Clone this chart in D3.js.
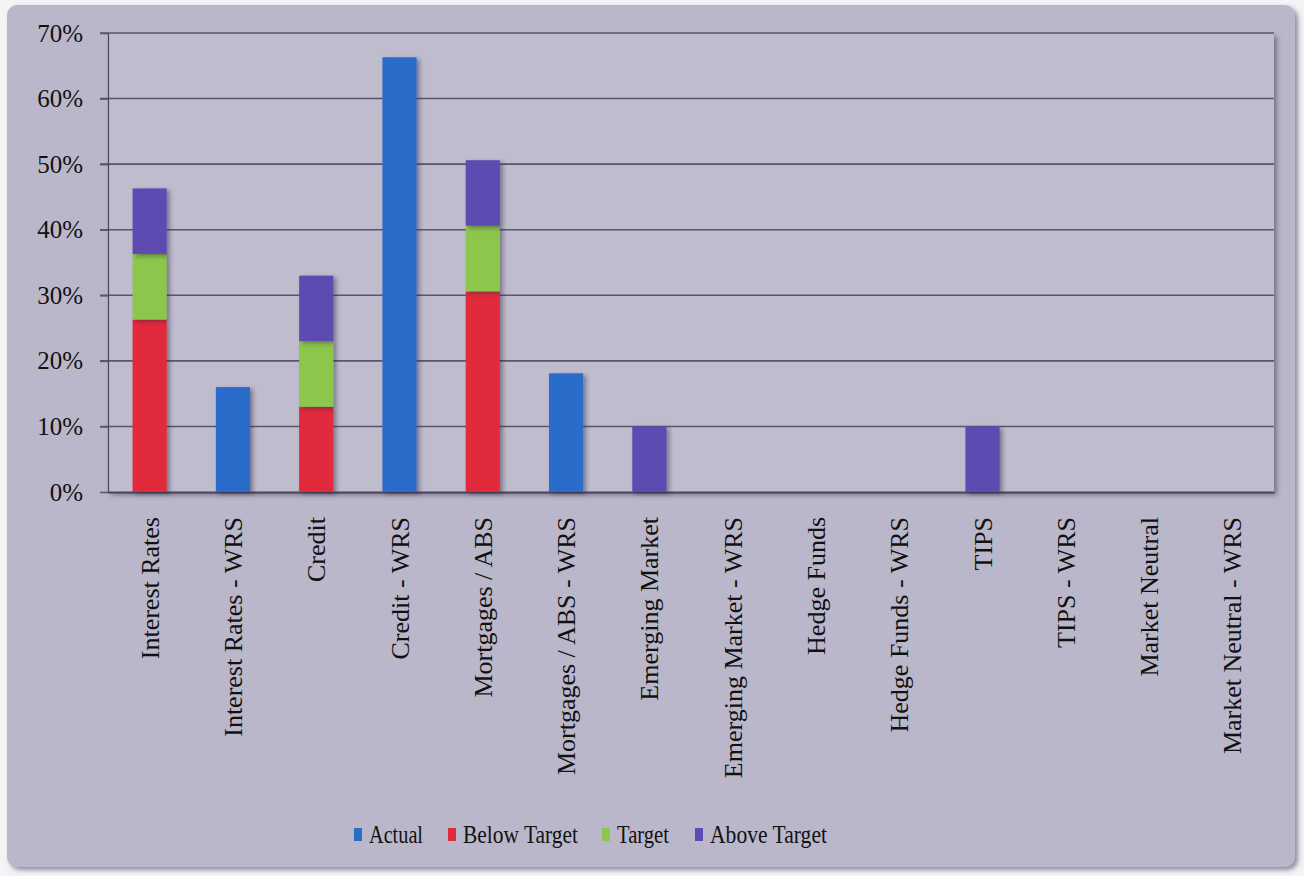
<!DOCTYPE html>
<html><head><meta charset="utf-8">
<script src="https://cdn.jsdelivr.net/npm/d3@7/dist/d3.min.js"></script>
<style>
html,body{margin:0;padding:0;background:#f4f4f6;}
svg{display:block;}
</style></head>
<body>
<svg id="chart" width="1304" height="876"></svg>
<script>
const categories = ["Interest Rates","Interest Rates - WRS","Credit","Credit - WRS","Mortgages / ABS","Mortgages / ABS - WRS","Emerging Market","Emerging Market - WRS","Hedge Funds","Hedge Funds - WRS","TIPS","TIPS - WRS","Market Neutral","Market Neutral - WRS"];
const actual      = [0, 16, 0, 66.3, 0, 18.1, 0, 0, 0, 0, 0, 0, 0, 0];
const belowTarget = [26.3, 0, 13, 0, 30.6, 0, 0, 0, 0, 0, 0, 0, 0, 0];
const target      = [10, 0, 10, 0, 10, 0, 0, 0, 0, 0, 0, 0, 0, 0];
const aboveTarget = [10, 0, 10, 0, 10, 0, 10, 0, 0, 0, 10, 0, 0, 0];
const seriesNames = ["Actual","Below Target","Target","Above Target"];
const seriesColors = ["#2c6cc9","#e12a3a","#8cc64c","#5d4cb2"];
const yTicks = [0,10,20,30,40,50,60,70];

const svg = d3.select("#chart");
const FONT = "'Liberation Serif','Times New Roman',serif";
const x = d3.scaleBand().domain(categories).range([108, 1274]).paddingInner(0.59).paddingOuter(0.295);
const y = d3.scaleLinear().domain([0,70]).range([492, 33]);

const defs = svg.append("defs");
const f = defs.append("filter").attr("id","sh").attr("x","-20%").attr("y","-20%").attr("width","150%").attr("height","150%");
f.append("feDropShadow").attr("dx",3).attr("dy",2).attr("stdDeviation",2).attr("flood-color","#2a2540").attr("flood-opacity",0.45);
const f2 = defs.append("filter").attr("id","sh2").attr("x","-5%").attr("y","-5%").attr("width","110%").attr("height","110%");
f2.append("feDropShadow").attr("dx",3).attr("dy",3).attr("stdDeviation",2.5).attr("flood-color","#4a4560").attr("flood-opacity",0.6);

// outer frame
svg.append("rect").attr("x",7).attr("y",5).attr("width",1288).attr("height",862).attr("rx",10)
  .attr("fill","#bbb7ca").attr("filter","url(#sh2)");

// plot area
svg.append("rect").attr("x",108).attr("y",33).attr("width",1166).attr("height",459)
  .attr("fill","#bfbcce").attr("filter","url(#sh2)");

// gridlines
svg.append("g").selectAll("line").data(yTicks.filter(d=>d>0)).join("line")
  .attr("x1",100).attr("x2",1274).attr("y1",d=>y(d)).attr("y2",d=>y(d))
  .attr("stroke","#5a566a").attr("stroke-width",1.6);

// y axis
const yAxis = d3.axisLeft(y).tickValues(yTicks).tickFormat(d=>d+"%").tickSize(8).tickPadding(17);
const ya = svg.append("g").attr("transform","translate(108,0)").call(yAxis);
ya.attr("font-family",FONT).attr("font-size",25);
ya.select(".domain").attr("stroke","#4a4658").attr("stroke-width",1.2);
ya.selectAll(".tick line").attr("stroke","#5a566a").attr("stroke-width",1.6);
ya.selectAll("text").attr("font-family",FONT).attr("font-size",25).attr("fill","#111");

// x axis
const xAxis = d3.axisBottom(x).tickSize(0).tickPadding(0);
const xa = svg.append("g").attr("transform","translate(0,492)").call(xAxis);
xa.attr("font-family",FONT).attr("font-size",26);
xa.select(".domain").attr("stroke","#4a4658").attr("stroke-width",2);
xa.selectAll("text")
  .attr("font-family",FONT).attr("font-size",26).attr("fill","#111")
  .attr("text-anchor","end").attr("transform","rotate(-90)").attr("x",-25).attr("y",0).attr("dy","0.35em");

// stacked bars
const stackData = categories.map((c,i)=>({cat:c, Actual:actual[i], "Below Target":belowTarget[i], Target:target[i], "Above Target":aboveTarget[i]}));
const stack = d3.stack().keys(seriesNames)(stackData);
const color = d3.scaleOrdinal().domain(seriesNames).range(seriesColors);
const barsG = svg.append("g");
stack.forEach(layer=>{
  barsG.append("g").attr("fill",color(layer.key)).attr("filter","url(#sh)")
    .selectAll("rect").data(layer.filter(d=>d[1]-d[0]>0)).join("rect")
    .attr("x",d=>x(d.data.cat)).attr("width",x.bandwidth())
    .attr("y",d=>y(d[1])).attr("height",d=>y(d[0])-y(d[1]));
});

// legend
const legendX = [354, 448, 602, 695];
const legendW = [54, 115, 52, 117];
const lg = svg.append("g");
seriesNames.forEach((s,i)=>{
  const g = lg.append("g").attr("transform",`translate(${legendX[i]},835)`);
  g.append("rect").attr("x",0).attr("y",-7).attr("width",8).attr("height",13).attr("fill",seriesColors[i]);
  g.append("text").attr("x",15).attr("y",0).attr("dy","0.33em")
    .attr("font-family",FONT).attr("font-size",25).attr("fill","#111")
    .attr("textLength",legendW[i]).attr("lengthAdjust","spacingAndGlyphs").text(s);
});
</script>
</body></html>
